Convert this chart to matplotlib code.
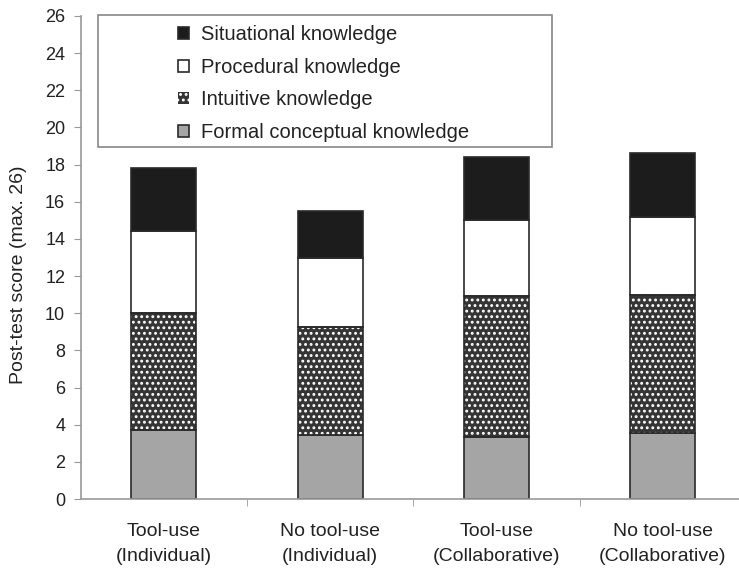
import matplotlib
matplotlib.use("Agg")
import matplotlib.pyplot as plt
from matplotlib.patches import Rectangle
import numpy as np

plt.rcParams["font.family"] = ["Liberation Sans", "DejaVu Sans"]

categories = ["Tool-use\n(Individual)", "No tool-use\n(Individual)",
              "Tool-use\n(Collaborative)", "No tool-use\n(Collaborative)"]
formal = [3.7, 3.45, 3.35, 3.55]
intuitive = [6.3, 5.8, 7.6, 7.45]
procedural = [4.45, 3.7, 4.05, 4.2]
situational = [3.35, 2.55, 3.4, 3.45]
yticks = list(range(0, 27, 2))

W, H = 739, 568
fig = plt.figure(figsize=(W / 100, H / 100), dpi=100)
ax = fig.add_axes([80.5 / W, (H - 499) / H, (746 - 80.5) / W, (499 - 16) / H])

x = np.arange(len(categories))
bw = 0.39
edge = "#2a2a2a"

plt.rcParams["hatch.color"] = "white"
plt.rcParams["hatch.linewidth"] = 1.3

b_formal = ax.bar(x, formal, bw, color="#a5a5a5", edgecolor=edge, linewidth=1.2, zorder=2)
bottom = np.array(formal)
b_int = ax.bar(x, intuitive, bw, bottom=bottom, color="#353535", edgecolor="white",
               hatch="...", linewidth=0, zorder=2)
ax.bar(x, intuitive, bw, bottom=bottom, fill=False, edgecolor=edge, linewidth=1.2, zorder=3)
bottom = bottom + np.array(intuitive)
b_proc = ax.bar(x, procedural, bw, bottom=bottom, color="white", edgecolor=edge, linewidth=1.2, zorder=2)
bottom = bottom + np.array(procedural)
b_sit = ax.bar(x, situational, bw, bottom=bottom, color="#1c1c1c", edgecolor=edge, linewidth=1.2, zorder=2)

ax.set_xlim(-0.5, 3.5)
ax.set_ylim(0, 26)
ax.set_yticks(yticks)
ax.set_yticklabels([str(t) for t in yticks], fontsize=13, color="#222222")
ax.set_ylabel("Post-test score (max. 26)", fontsize=14, color="#222222")
ax.yaxis.set_label_coords(-0.081, 0.465)

ax.set_xticks(x)
ax.set_xticklabels(categories, fontsize=14, color="#222222", linespacing=1.65)
ax.tick_params(axis="x", length=0, pad=17)
ax.set_xticks(np.arange(0.5, 3.5, 1.0), minor=True)
ax.tick_params(axis="x", which="minor", length=5, color="#999999", direction="out")
ax.tick_params(axis="y", length=5, color="#999999", direction="out", pad=6)

for s in ["top", "right"]:
    ax.spines[s].set_visible(False)
for s in ["left", "bottom"]:
    ax.spines[s].set_color("#999999")
    ax.spines[s].set_linewidth(1.2)

# legend box
fig.patches.append(Rectangle((98 / W, (H - 147) / H), (552 - 98) / W, (147 - 15) / H,
                             transform=fig.transFigure, fill=True, facecolor="white",
                             edgecolor="#888888", linewidth=1.2, zorder=5))
leg = fig.legend([b_sit, b_proc, b_int, b_formal],
                 ["Situational knowledge", "Procedural knowledge",
                  "Intuitive knowledge", "Formal conceptual knowledge"],
                 loc="upper left", bbox_to_anchor=(168 / W, (H - 15) / H),
                 frameon=False, fontsize=14.5, handlelength=0.55, handleheight=0.55,
                 handletextpad=0.6, labelspacing=0.68, borderpad=0)
leg.set_zorder(6)
for t in leg.get_texts():
    t.set_color("#222222")

fig.savefig("out.png", dpi=100)
